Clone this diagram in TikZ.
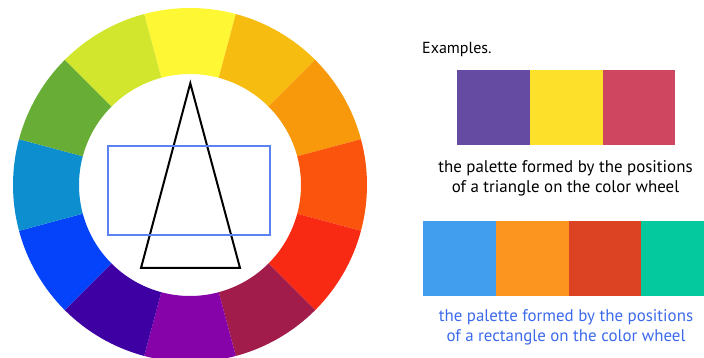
\documentclass[tikz,border=0pt]{standalone}
\usepackage{fontspec}
\setmainfont{PT Sans}
\usetikzlibrary{calc}
\definecolor{w0}{HTML}{FDF734}
\definecolor{w1}{HTML}{F7BC10}
\definecolor{w2}{HTML}{F7990B}
\definecolor{w3}{HTML}{FB540C}
\definecolor{w4}{HTML}{F92A14}
\definecolor{w5}{HTML}{A21C4B}
\definecolor{w6}{HTML}{8503A9}
\definecolor{w7}{HTML}{3F00A3}
\definecolor{w8}{HTML}{0443F9}
\definecolor{w9}{HTML}{0C8ECF}
\definecolor{w10}{HTML}{68AE36}
\definecolor{w11}{HTML}{D1E62C}
\definecolor{pa}{HTML}{654BA1}
\definecolor{pb}{HTML}{FDE02A}
\definecolor{pc}{HTML}{CF4660}
\definecolor{qa}{HTML}{419EEE}
\definecolor{qb}{HTML}{FC951F}
\definecolor{qc}{HTML}{DC4322}
\definecolor{qd}{HTML}{04C89E}
\definecolor{rectblue}{HTML}{5B82F0}
\definecolor{captblue}{HTML}{3D6AEA}
\begin{document}
\begin{tikzpicture}[x=1pt,y=1pt,
  swatch/.style={draw=none,inner sep=0pt,outer sep=0pt,minimum height=75.3pt,anchor=north west},
  caption/.style={font=\fontsize{16.9}{20}\selectfont,align=center,inner sep=0pt}]
\useasboundingbox (0,0) rectangle (704,358);
\clip (0,0) rectangle (704,358);
% colour wheel
\foreach \i in {0,...,11}{
  \pgfmathsetmacro{\a}{75-30*\i}
  \fill[w\i] ($(190,173)+(\a:177)$) arc[start angle=\a,end angle=\a+30,radius=177]
    -- ($(190,173)+(\a+30:111)$) arc[start angle=\a+30,end angle=\a,radius=111] -- cycle;
}
\coordinate (ta) at (190.3,274.7);
\coordinate (tb) at (141,90);
\coordinate (tc) at (240,90);
\draw[line width=2pt,line join=miter] (ta) -- (tb) -- (tc) -- cycle;
\coordinate (r1) at (107.7,212);
\coordinate (r2) at (270,122.7);
\draw[rectblue,line width=1.8pt] (r1) rectangle (r2);
% right side
\node[anchor=west,inner sep=0pt,font=\fontsize{16}{19}\selectfont] (ex) at (422,308) {Examples.};
\node[swatch,fill=pa,minimum width=73pt] (p1) at (457.3,288) {};
\node[swatch,fill=pb,minimum width=73pt] (p2) at (530.3,288) {};
\node[swatch,fill=pc,minimum width=71.7pt] (p3) at (603.3,288) {};
\node[caption] (c1) at (565.5,179.5) {the palette formed by the positions\\of a triangle on the color wheel};
\node[swatch,fill=qa,minimum width=72.7pt] (q1) at (423.3,137.3) {};
\node[swatch,fill=qb,minimum width=73pt] (q2) at (496,137.3) {};
\node[swatch,fill=qc,minimum width=71.5pt] (q3) at (569,137.3) {};
\node[swatch,fill=qd,minimum width=64pt] (q4) at (640.5,137.3) {};
\node[caption,text=captblue] (c2) at (566,30.5) {the palette formed by the positions\\of a rectangle on the color wheel};
\end{tikzpicture}
\end{document}
